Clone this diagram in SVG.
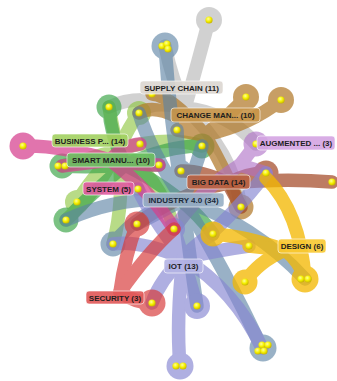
<svg xmlns="http://www.w3.org/2000/svg" width="337" height="381" viewBox="0 0 337 381">
  <defs>
    <radialGradient id="dotFill" cx="40%" cy="35%" r="65%">
      <stop offset="0" stop-color="#ffff9a"/>
      <stop offset="0.55" stop-color="#f4f000"/>
      <stop offset="1" stop-color="#c8b400"/>
    </radialGradient>
    <style>
      .band path { fill: none; stroke-width: 13.5; stroke-linecap: round; }
      .band circle { stroke: none; }
      .dot { fill: url(#dotFill); }
      .lbl rect { stroke: #ffffff; stroke-opacity: 0.6; stroke-width: 1; }
      .lbl text { font-family: "Liberation Sans", Arial, sans-serif; font-size: 8px; font-weight: bold; fill: #1e1e1e; text-anchor: middle; }
    </style>
  </defs>
  <rect width="337" height="381" fill="#ffffff"/>

  <g id="connectors">
    <!-- SUPPLY CHAIN -->
    <g id="e-supply" class="band" opacity="0.6" stroke="#b4b4b4" fill="#b4b4b4">
      <path d="M185,108 Q198,62 209,20"/>
      <path d="M185,108 Q172,80 165,46"/>
      <path d="M185,108 Q140,92 109,107"/>
      <path d="M185,108 Q228,112 256,144"/>
      <path d="M185,108 Q232,150 241,207"/>
      <path d="M185,108 Q150,100 139,113"/>
      <circle cx="209" cy="20" r="13"/>
    </g>
    <!-- BUSINESS P... -->
    <g id="e-business" class="band" opacity="0.62" stroke="#8dc63f" fill="#8dc63f">
      <path d="M118,150 Q112,125 109,107"/>
      <path d="M118,150 Q130,125 139,113"/>
      <path d="M118,150 Q85,160 62,166"/>
      <path d="M118,150 Q90,180 77,202"/>
      <path d="M118,150 Q130,175 138,189"/>
      <path d="M118,150 Q165,135 202,146"/>
      <path d="M118,150 Q95,195 66,220"/>
      <path d="M118,150 Q125,200 113,244"/>
      <path d="M118,150 Q160,175 174,229"/>
      <circle cx="139" cy="113" r="12"/>
      <circle cx="77" cy="202" r="12"/>
    </g>
    <!-- SMART MANU... -->
    <g id="e-smart" class="band" opacity="0.68" stroke="#3da64a" fill="#3da64a">
      <path d="M125,165 Q110,135 109,107"/>
      <path d="M125,165 Q90,168 62,166"/>
      <path d="M125,165 Q170,145 202,146"/>
      <path d="M125,165 Q90,195 66,220"/>
      <path d="M125,165 L159,165"/>
      <path d="M125,165 Q185,195 213,234"/>
      <circle cx="109" cy="107" r="12.5"/>
      <circle cx="62" cy="166" r="12.5"/>
      <circle cx="202" cy="146" r="12.5"/>
      <circle cx="66" cy="220" r="12.5"/>
    </g>
    <!-- CHANGE MAN... -->
    <g id="e-change" class="band" opacity="0.72" stroke="#b27a2a" fill="#b27a2a">
      <path d="M205,135 Q230,115 246,97"/>
      <path d="M205,135 Q250,125 281,100"/>
      <path d="M205,135 L177,130"/>
      <path d="M205,135 Q225,170 241,207"/>
      <path d="M205,135 Q170,95 152,94"/>
      <path d="M205,135 Q160,100 139,113"/>
      <circle cx="246" cy="97" r="13"/>
      <circle cx="281" cy="100" r="13"/>
      <circle cx="241" cy="207" r="12.5"/>
    </g>
    <!-- BIG DATA -->
    <g id="e-bigdata" class="band" opacity="0.72" stroke="#a44a28" fill="#a44a28">
      <path d="M228,183 Q285,178 332,182"/>
      <path d="M228,183 Q250,172 266,173"/>
      <path d="M228,183 L241,207"/>
      <path d="M228,183 Q200,170 181,171"/>
      <path d="M228,183 Q175,195 137,224"/>
      <circle cx="266" cy="173" r="12.5"/>
    </g>
    <!-- AUGMENTED ... -->
    <g id="e-augmented" class="band" opacity="0.62" stroke="#b070c8" fill="#b070c8">
      <path d="M240,165 L256,144"/>
      <path d="M240,165 L266,173"/>
      <path d="M240,165 Q200,190 174,229"/>
      <circle cx="256" cy="144" r="12.5"/>
    </g>
    <!-- INDUSTRY 4.0 -->
    <g id="e-industry" class="band" opacity="0.62" stroke="#5b83a4" fill="#5b83a4">
      <path d="M183,200 Q170,120 165,46"/>
      <path d="M183,200 L181,171"/>
      <path d="M183,200 Q140,210 113,244"/>
      <path d="M183,200 Q225,270 262,348"/>
      <path d="M183,200 Q120,195 66,220"/>
      <path d="M183,200 Q195,170 202,146"/>
      <path d="M183,200 Q255,225 305,279"/>
      <path d="M183,200 Q190,260 197,306"/>
      <path d="M183,200 Q178,160 177,130"/>
      <path d="M183,200 L137,224"/>
      <path d="M183,200 Q150,150 139,113"/>
      <circle cx="165" cy="46" r="13.5"/>
      <circle cx="181" cy="171" r="11"/>
      <circle cx="113" cy="244" r="12.5"/>
      <circle cx="263" cy="348" r="13.5"/>
    </g>
    <!-- IOT -->
    <g id="e-iot" class="band" opacity="0.66" stroke="#8686d2" fill="#8686d2">
      <path d="M183,258 Q176,320 180,366"/>
      <path d="M183,258 L197,306"/>
      <path d="M183,258 Q160,280 152,303"/>
      <path d="M183,258 L174,229"/>
      <path d="M183,258 Q140,240 113,244"/>
      <path d="M183,258 Q200,240 213,234"/>
      <path d="M183,258 Q235,290 262,348"/>
      <path d="M183,258 Q235,215 266,173"/>
      <path d="M183,258 Q150,215 138,189"/>
      <path d="M183,258 Q220,250 249,246"/>
      <circle cx="197" cy="306" r="13"/>
      <circle cx="180" cy="366" r="13.5"/>
      <circle cx="174" cy="229" r="11"/>
    </g>
    <!-- SYSTEM -->
    <g id="e-system" class="band" opacity="0.72" stroke="#d6408e" fill="#d6408e">
      <path d="M110,160 Q60,145 23,146"/>
      <path d="M110,160 Q125,145 140,144"/>
      <path d="M110,160 Q140,165 159,165"/>
      <path d="M110,160 L62,166"/>
      <path d="M110,160 Q150,190 174,229"/>
      <circle cx="23" cy="146" r="13.5"/>
    </g>
    <!-- SECURITY -->
    <g id="e-security" class="band" opacity="0.68" stroke="#d83a3a" fill="#d83a3a">
      <path d="M120,292 Q135,303 152,303"/>
      <path d="M120,292 Q125,255 137,224"/>
      <path d="M120,292 Q150,250 174,229"/>
      <circle cx="152" cy="303" r="13.5"/>
      <circle cx="137" cy="224" r="12.5"/>
    </g>
    <!-- DESIGN -->
    <g id="e-design" class="band" opacity="0.76" stroke="#f4b800" fill="#f4b800">
      <path d="M285,250 Q245,236 213,234"/>
      <path d="M285,250 L249,246"/>
      <path d="M285,250 Q258,262 245,282"/>
      <path d="M285,250 Q300,262 305,279"/>
      <path d="M305,279 Q300,212 266,178"/>
      <circle cx="213" cy="234" r="12.5"/>
      <circle cx="245" cy="282" r="12.5"/>
      <circle cx="305" cy="279" r="13.5"/>
    </g>
  </g>

  <!-- member nodes -->
  <g id="nodes">
    <circle class="dot" cx="209" cy="20" r="3.6"/>
    <circle class="dot" cx="162" cy="46" r="3.6"/>
    <circle class="dot" cx="167" cy="44" r="3.6"/>
    <circle class="dot" cx="168" cy="49" r="3.6"/>
    <circle class="dot" cx="109" cy="107" r="3.6"/>
    <circle class="dot" cx="139" cy="113" r="3.6"/>
    <circle class="dot" cx="152" cy="94" r="3.6"/>
    <circle class="dot" cx="23" cy="146" r="3.6"/>
    <circle class="dot" cx="140" cy="144" r="3.6"/>
    <circle class="dot" cx="58" cy="166" r="3.6"/>
    <circle class="dot" cx="65" cy="166" r="3.6"/>
    <circle class="dot" cx="159" cy="165" r="3.6"/>
    <circle class="dot" cx="138" cy="189" r="3.6"/>
    <circle class="dot" cx="177" cy="130" r="3.6"/>
    <circle class="dot" cx="202" cy="146" r="3.6"/>
    <circle class="dot" cx="246" cy="97" r="3.6"/>
    <circle class="dot" cx="281" cy="100" r="3.6"/>
    <circle class="dot" cx="256" cy="144" r="3.6"/>
    <circle class="dot" cx="181" cy="171" r="3.6"/>
    <circle class="dot" cx="266" cy="173" r="3.6"/>
    <circle class="dot" cx="332" cy="182" r="3.6"/>
    <circle class="dot" cx="77" cy="202" r="3.6"/>
    <circle class="dot" cx="66" cy="220" r="3.6"/>
    <circle class="dot" cx="137" cy="224" r="3.6"/>
    <circle class="dot" cx="174" cy="229" r="3.6"/>
    <circle class="dot" cx="113" cy="244" r="3.6"/>
    <circle class="dot" cx="241" cy="207" r="3.6"/>
    <circle class="dot" cx="213" cy="234" r="3.6"/>
    <circle class="dot" cx="249" cy="246" r="3.6"/>
    <circle class="dot" cx="245" cy="282" r="3.6"/>
    <circle class="dot" cx="301" cy="279" r="3.6"/>
    <circle class="dot" cx="308" cy="279" r="3.6"/>
    <circle class="dot" cx="152" cy="303" r="3.6"/>
    <circle class="dot" cx="197" cy="306" r="3.6"/>
    <circle class="dot" cx="262" cy="345" r="3.6"/>
    <circle class="dot" cx="268" cy="345" r="3.6"/>
    <circle class="dot" cx="258" cy="351" r="3.6"/>
    <circle class="dot" cx="264" cy="351" r="3.6"/>
    <circle class="dot" cx="176" cy="366" r="3.6"/>
    <circle class="dot" cx="183" cy="366" r="3.6"/>
  </g>

  <!-- hyperedge labels -->
  <g id="label-supply" class="lbl"><rect x="140" y="81" width="83" height="13" rx="3" fill="#dcd6d0" fill-opacity="0.9"/><text x="181.5" y="90.5">SUPPLY CHAIN (11)</text></g>
  <g id="label-change" class="lbl"><rect x="171" y="108" width="89" height="14" rx="3" fill="#c89548" fill-opacity="0.9"/><text x="215.5" y="118">CHANGE MAN... (10)</text></g>
  <g id="label-business" class="lbl"><rect x="52" y="134" width="76" height="13" rx="3" fill="#a2d060" fill-opacity="0.9"/><text x="90" y="143.5">BUSINESS P... (14)</text></g>
  <g id="label-smart" class="lbl"><rect x="67" y="153" width="88" height="14" rx="3" fill="#6cc060" fill-opacity="0.9"/><text x="111" y="163">SMART MANU... (10)</text></g>
  <g id="label-system" class="lbl"><rect x="83" y="182" width="51" height="13" rx="3" fill="#e05aa0" fill-opacity="0.9"/><text x="108.5" y="191.5">SYSTEM (5)</text></g>
  <g id="label-augmented" class="lbl"><rect x="257" y="136" width="78" height="14" rx="3" fill="#d4a4e2" fill-opacity="0.9"/><text x="296" y="146">AUGMENTED ... (3)</text></g>
  <g id="label-bigdata" class="lbl"><rect x="187" y="175" width="63" height="14" rx="3" fill="#b86040" fill-opacity="0.9"/><text x="218.5" y="185">BIG DATA (14)</text></g>
  <g id="label-industry" class="lbl"><rect x="143" y="193" width="81" height="14" rx="3" fill="#96aec4" fill-opacity="0.9"/><text x="183.5" y="203" style="fill:#1c2a3a">INDUSTRY 4.0 (34)</text></g>
  <g id="label-design" class="lbl"><rect x="278" y="239" width="48" height="14" rx="3" fill="#f8c830" fill-opacity="0.9"/><text x="302" y="249">DESIGN (6)</text></g>
  <g id="label-iot" class="lbl"><rect x="164" y="259" width="39" height="14" rx="3" fill="#b4b4e4" fill-opacity="0.9"/><text x="183.5" y="269">IOT (13)</text></g>
  <g id="label-security" class="lbl"><rect x="86" y="291" width="58" height="13" rx="3" fill="#e05858" fill-opacity="0.9"/><text x="115" y="300.5">SECURITY (3)</text></g>
</svg>
